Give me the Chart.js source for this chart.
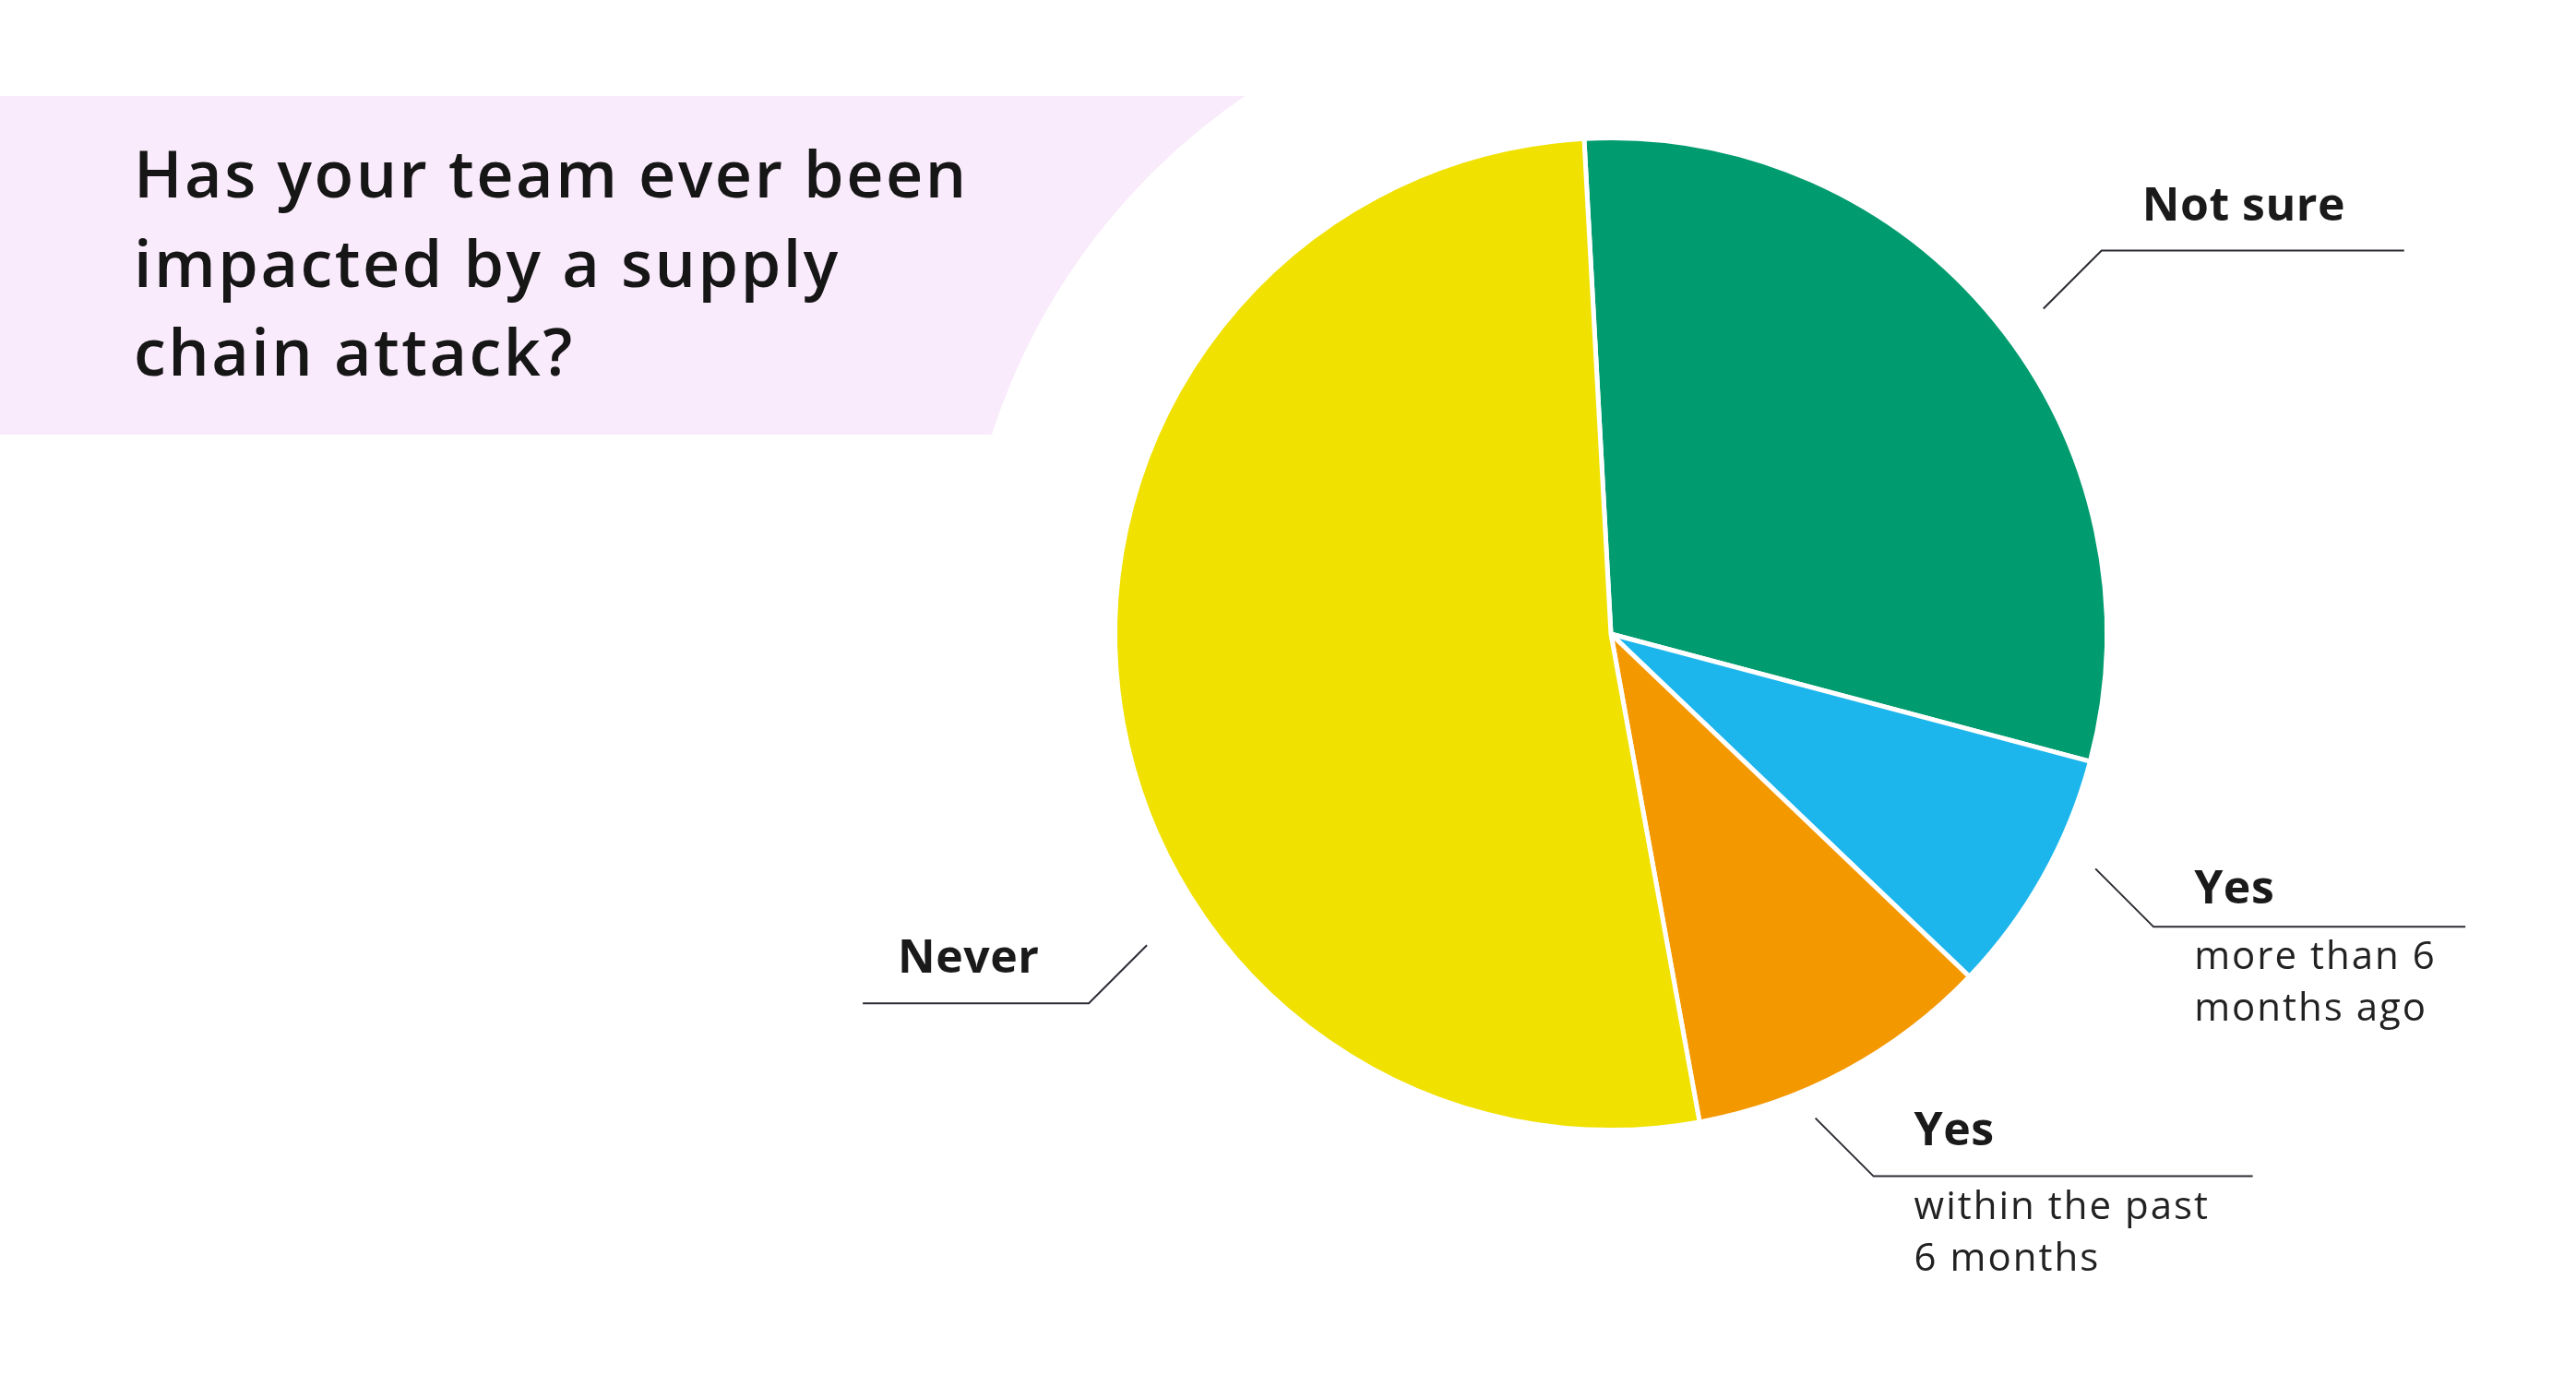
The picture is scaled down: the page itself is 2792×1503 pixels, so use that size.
<!DOCTYPE html>
<html>
<head>
<meta charset="utf-8">
<script src="https://cdn.jsdelivr.net/npm/chart.js@4"></script>
<style>
  html, body { margin: 0; padding: 0; background: #fff; }
  canvas { display: block; }
</style>
</head>
<body>
<canvas id="myChart" width="2792" height="1503"></canvas>
<script>
var titleLines = ["Has your team ever been", "impacted by a supply", "chain attack?"];
var categories = ["Not sure", "Yes", "Yes", "Never"];
var categoryNotes = [[], ["more than 6", "months ago"], ["within the past", "6 months"], []];
var shares = [30, 8, 10, 52];
var sliceColors = ["#009B6E", "#1CB6EC", "#F49800", "#F0E100"];

// where each leader line sits (fraction along the slice, gap outside the pie, etc.)
var callouts = [
  { frac: 0.52, gap: 49, dx: 1, dy: -1, leg: 63, run: 328, lift: 33 },
  { frac: 0.38, gap: 46, dx: 1, dy: 1, leg: 63, run: 338, lift: 25 },
  { frac: 0.65, gap: 32, dx: 1, dy: 1, leg: 63, run: 411, lift: 34 },
  { frac: 0.355, gap: 68, dx: -1, dy: 1, leg: 63, run: 245, lift: 33 }
];

var FONT = "'Open Sans', 'Noto Sans', sans-serif";

var decorations = {
  id: "decorations",
  beforeDraw: function (chart) {
    var ctx = chart.ctx;
    var arc = chart.getDatasetMeta(0).data[0];
    ctx.save();
    // lavender banner, its right side cut by a circle around the pie
    ctx.beginPath();
    ctx.rect(0, 104, 1400, 367);
    ctx.clip();
    ctx.beginPath();
    ctx.rect(0, 104, 1400, 367);
    ctx.arc(arc.x, arc.y, 705, 0, Math.PI * 2);
    ctx.fillStyle = "#FAEBFC";
    ctx.fill("evenodd");
    ctx.restore();
  },
  afterDraw: function (chart) {
    var ctx = chart.ctx;
    var arcs = chart.getDatasetMeta(0).data;
    ctx.save();

    ctx.fillStyle = "#161616";
    ctx.font = "600 70px " + FONT;
    ctx.letterSpacing = "2.5px";
    ctx.textBaseline = "alphabetic";
    ctx.textAlign = "left";
    titleLines.forEach(function (t, i) {
      ctx.fillText(t, 145, 214 + i * 96.5);
    });

    arcs.forEach(function (a, i) {
      var c = callouts[i];
      var ang = a.startAngle + c.frac * (a.endAngle - a.startAngle);
      var r = a.outerRadius + c.gap;
      var x0 = a.x + Math.cos(ang) * r;
      var y0 = a.y + Math.sin(ang) * r;
      var x1 = x0 + c.dx * c.leg;
      var y1 = y0 + c.dy * c.leg;
      var x2 = x1 + c.dx * c.run;

      ctx.beginPath();
      ctx.moveTo(x0, y0);
      ctx.lineTo(x1, y1);
      ctx.lineTo(x2, y1);
      ctx.strokeStyle = "#2b2b33";
      ctx.lineWidth = 2;
      ctx.stroke();

      var tx = c.dx > 0 ? x1 + 44 : x2 + 38;
      ctx.fillStyle = "#1a1a1a";
      ctx.font = "700 50px " + FONT;
      ctx.letterSpacing = "0.5px";
      ctx.fillText(categories[i], tx, y1 - c.lift);

      ctx.fillStyle = "#222";
      ctx.font = "400 42px " + FONT;
      ctx.letterSpacing = "2px";
      categoryNotes[i].forEach(function (n, j) {
        ctx.fillText(n, tx, y1 + 46 + j * 56);
      });
    });
    ctx.restore();
  }
};

new Chart("myChart", {
  type: "pie",
  data: {
    labels: categories,
    datasets: [
      {
        data: shares,
        backgroundColor: sliceColors,
        borderColor: "#ffffff",
        borderWidth: 5
      }
    ]
  },
  options: {
    responsive: false,
    devicePixelRatio: 1,
    animation: false,
    rotation: -3.1,
    layout: { padding: { left: 1206, top: 147, right: 506, bottom: 276 } },
    plugins: {
      legend: { display: false },
      tooltip: { enabled: false }
    }
  },
  plugins: [decorations]
});
</script>
</body>
</html>
